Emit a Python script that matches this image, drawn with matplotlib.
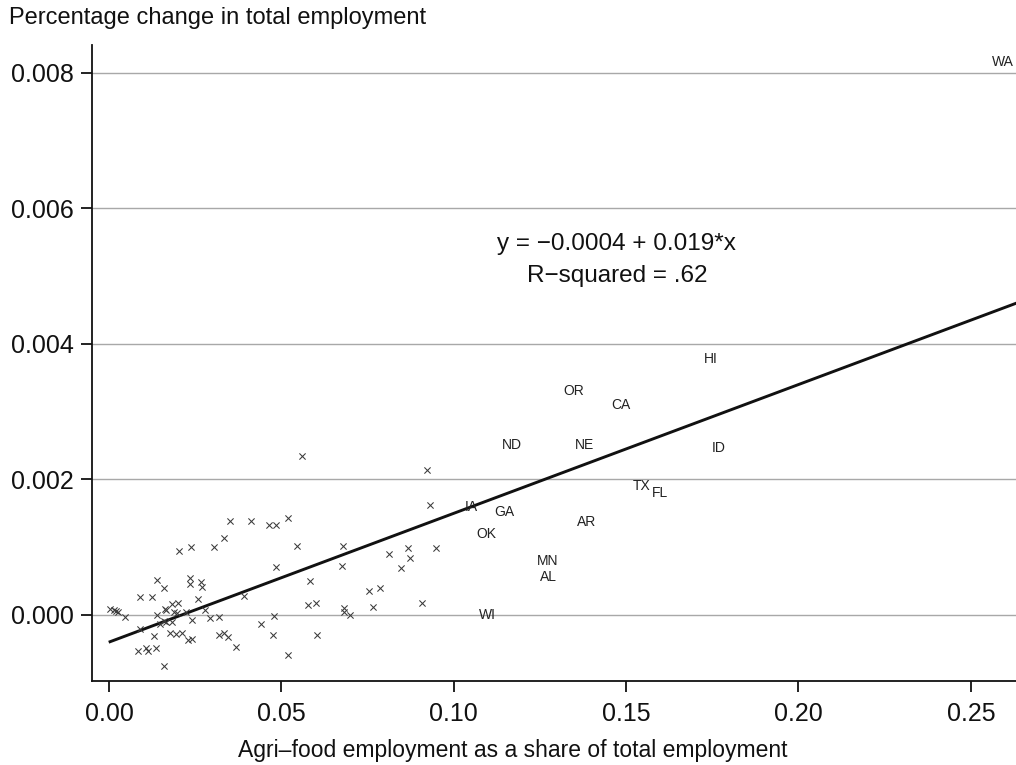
import matplotlib
matplotlib.use("Agg")
import matplotlib.pyplot as plt
import numpy as np

plt.rcParams["font.family"] = ["Liberation Sans", "DejaVu Sans"]

# unlabelled states (agri-food share, % change in total employment)
share = [0.0139, 0.0160, 0.0236, 0.0236, 0.0268, 0.0271, 0.0089, 0.0126, 0.0258, 0.0004,
         0.0014, 0.0021, 0.0027, 0.0046, 0.0139, 0.0162, 0.0165, 0.0182, 0.0201, 0.0189,
         0.0197, 0.0222, 0.0148, 0.0159, 0.0166, 0.0184, 0.0240, 0.0089, 0.0131, 0.0178,
         0.0195, 0.0213, 0.0228, 0.0240, 0.0083, 0.0108, 0.0112, 0.0137, 0.0159, 0.0485,
         0.0392, 0.0278, 0.0294, 0.0319, 0.0479, 0.0441, 0.0319, 0.0334, 0.0344, 0.0476,
         0.0369, 0.0520, 0.0203, 0.0238, 0.0561, 0.0352, 0.0412, 0.0464, 0.0483, 0.0520,
         0.0334, 0.0305, 0.0544, 0.0923, 0.0932, 0.0680, 0.0675, 0.0813, 0.0868, 0.0874,
         0.0847, 0.0948, 0.0583, 0.0754, 0.0787, 0.0578, 0.0599, 0.0681, 0.0681, 0.0700,
         0.0766, 0.0909, 0.0602]
change = [0.00051, 0.00040, 0.00054, 0.00046, 0.00048, 0.00042, 0.00027, 0.00026, 0.00024, 0.00009,
          0.00007, 0.00006, 0.00004, -0.00003, 0.00000, 0.00009, 0.00007, 0.00016, 0.00017, 0.00004,
          0.00003, 0.00004, -0.00013, -0.00009, -0.00010, -0.00010, -0.00008, -0.00020, -0.00031, -0.00026,
          -0.00028, -0.00026, -0.00037, -0.00035, -0.00053, -0.00048, -0.00053, -0.00049, -0.00075, 0.00071,
          0.00028, 0.00007, -0.00004, -0.00003, -0.00001, -0.00014, -0.00029, -0.00027, -0.00032, -0.00029,
          -0.00047, -0.00059, 0.00095, 0.00100, 0.00234, 0.00139, 0.00138, 0.00133, 0.00133, 0.00143,
          0.00114, 0.00101, 0.00102, 0.00214, 0.00162, 0.00102, 0.00072, 0.00090, 0.00099, 0.00084,
          0.00069, 0.00099, 0.00050, 0.00036, 0.00040, 0.00014, 0.00018, 0.00011, 0.00005, 0.00000,
          0.00012, 0.00018, -0.00030]

# labelled states
states = ["HI", "OR", "CA", "ND", "NE", "ID", "TX", "FL", "IA", "GA", "AR", "OK", "MN", "AL", "WI", "WA"]
state_share = [0.1746, 0.1349, 0.1485, 0.1169, 0.1378, 0.1769, 0.1546, 0.1598, 0.1050, 0.1148,
               0.1386, 0.1096, 0.1273, 0.1276, 0.1099, 0.2593]
state_change = [0.00377, 0.00331, 0.00310, 0.00251, 0.00251, 0.00246, 0.00190, 0.00180, 0.00159, 0.00152,
                0.00137, 0.00120, 0.00080, 0.00056, 0.00000, 0.00816]

intercept = -0.0004
slope = 0.019
xticks = [0.00, 0.05, 0.10, 0.15, 0.20, 0.25]
yticks = [0.000, 0.002, 0.004, 0.006, 0.008]

fig = plt.figure(figsize=(10.16, 7.65), dpi=100)
ax = fig.add_axes([0.0906, 0.1098, 0.9094, 0.8314])

ax.scatter(share, change, marker="x", s=20, linewidths=0.75, color="#3a3a3a", zorder=3)
for st, sx, sy in zip(states, state_share, state_change):
    ax.text(sx, sy, st, fontsize=10, ha="center", va="center", color="#222222", zorder=3)

fx = np.array([0.0003, 0.2631])
ax.plot(fx, intercept + slope * fx, color="#111111", linewidth=2.1, zorder=2)

ax.text(0.1473, 0.005235, "y = \u22120.0004 + 0.019*x\nR\u2212squared = .62",
        ha="center", va="center", fontsize=17.5, linespacing=1.6, color="#111111")

ax.set_xlim(-0.00493, 0.2631)
ax.set_ylim(-0.000974, 0.00841)
ax.set_xticks(xticks)
ax.set_xticklabels(["%.2f" % v for v in xticks])
ax.set_yticks(yticks)
ax.set_yticklabels(["%.3f" % v for v in yticks])
ax.yaxis.grid(True, color="#a8a8a8", linewidth=1.0)
ax.set_axisbelow(True)
for side in ["top", "right"]:
    ax.spines[side].set_visible(False)
for side in ["left", "bottom"]:
    ax.spines[side].set_linewidth(1.3)
    ax.spines[side].set_color("#111111")
ax.tick_params(direction="out", length=8, width=1.3, labelsize=18, colors="#111111")
ax.tick_params(axis="x", pad=7)
ax.tick_params(axis="y", pad=5)

fig.text(513 / 1016, 0.0196, "Agri\u2013food employment as a share of total employment", fontsize=16.5,
         ha="center", va="center", color="#111111")
fig.text(0.009, 0.976, "Percentage change in total employment", fontsize=17, ha="left", va="center",
         color="#111111")

fig.savefig("out.png", dpi=100)
